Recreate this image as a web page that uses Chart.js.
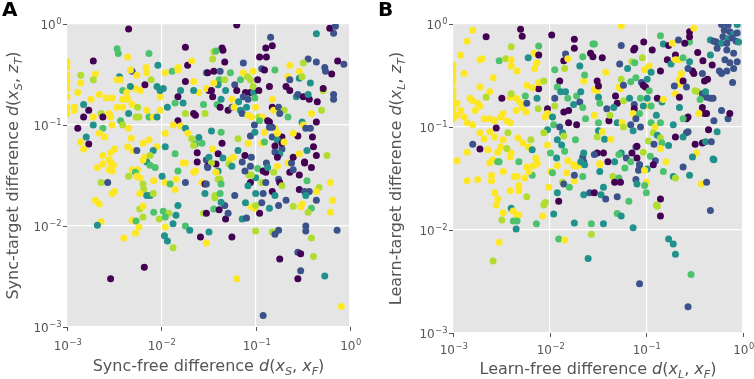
<!DOCTYPE html>
<html>
<head>
<meta charset="utf-8">
<script src="https://cdn.jsdelivr.net/npm/chart.js@4.4.1/dist/chart.umd.min.js"></script>
<style>
  body { margin: 0; background: #ffffff; }
  #wrap { position: relative; width: 754px; height: 379px; }
  canvas { position: absolute; top: 0; }
</style>
</head>
<body>
<div id="wrap">
  <canvas id="chartA" width="377" height="379" style="left:0px"></canvas>
  <canvas id="chartB" width="377" height="379" style="left:377px"></canvas>
</div>
<script>
// Panel A: sync-free difference (x) vs sync-target difference (y), colour level 0..5
const syncFree = [
  0.0045,0.0034,0.0035,0.0074,0.0044,0.0019,0.001,0.001,0.001,0.001,
  0.001,0.001,0.001,0.001,0.002,0.0019,0.0014,0.0014,0.0036,0.0049,
  0.0047,0.0034,0.0037,0.0092,0.0069,0.007,0.0055,0.0067,0.0078,0.009,
  0.0053,0.006,0.0047,0.0039,0.0043,0.0013,0.0012,0.0012,0.0015,0.0017,
  0.0015,0.0013,0.0016,0.0017,0.0014,0.0015,0.0018,0.0022,0.0026,0.003,
  0.0023,0.0019,0.0024,0.0028,0.0029,0.0037,0.0039,0.0024,0.0019,0.0022,
  0.0025,0.003,0.0034,0.0039,0.0044,0.0049,0.0056,0.0039,0.0045,0.0054,
  0.0058,0.007,0.0074,0.0082,0.009,0.0097,0.0097,0.0097,0.0045,0.0048,
  0.0044,0.005,0.0055,0.0032,0.0029,0.0024,0.0024,0.0028,0.0031,0.0064,
  0.0074,0.009,0.0082,0.0067,0.0076,0.007,0.0064,0.011,0.011,0.0116,
  0.0105,0.013,0.011,0.015,0.015,0.018,0.019,0.021,0.018,0.022,
  0.016,0.015,0.014,0.017,0.018,0.022,0.023,0.028,0.015,0.016,
  0.0134,0.018,0.019,0.021,0.023,0.025,0.022,0.027,0.024,0.03,
  0.032,0.018,0.014,0.03,0.036,0.032,0.03,0.029,0.025,0.022,
  0.036,0.063,0.144,0.15,0.128,0.044,0.045,0.038,0.035,0.047,
  0.11,0.13,0.074,0.44,0.67,0.61,0.7,0.74,0.86,0.44,
  0.36,0.32,0.23,0.29,0.54,0.55,0.64,0.094,0.074,0.16,
  0.116,0.124,0.054,0.042,0.031,0.041,0.047,0.069,0.082,0.088,
  0.105,0.04,0.036,0.034,0.048,0.06,0.063,0.078,0.088,0.074,
  0.095,0.094,0.108,0.14,0.056,0.043,0.035,0.039,0.042,0.066,
  0.083,0.098,0.051,0.056,0.059,0.069,0.1,0.08,0.072,0.083,
  0.09,0.108,0.118,0.134,0.15,0.15,0.155,0.175,0.2,0.18,
  0.22,0.21,0.23,0.27,0.28,0.32,0.37,0.36,0.38,0.29,
  0.31,0.22,0.23,0.45,0.5,0.52,0.52,0.67,0.67,0.39,
  0.44,0.31,0.32,0.34,0.38,0.28,0.25,0.19,0.15,0.17,
  0.16,0.17,0.15,0.14,0.11,0.097,0.116,0.124,0.16,0.19,
  0.19,0.2,0.18,0.16,0.17,0.22,0.24,0.25,0.29,0.33,
  0.35,0.41,0.4,0.57,0.44,0.09,0.058,0.065,0.077,0.083,
  0.088,0.098,0.065,0.044,0.043,0.034,0.035,0.04,0.045,0.053,
  0.031,0.038,0.072,0.124,0.14,0.0021,0.0028,0.003,0.0029,0.003,
  0.0023,0.0027,0.003,0.0032,0.002,0.0022,0.0045,0.0049,0.0056,0.0053,
  0.0055,0.0059,0.0064,0.0065,0.0059,0.007,0.0076,0.0082,0.0083,0.0076,
  0.0086,0.0102,0.011,0.0124,0.014,0.0143,0.015,0.017,0.022,0.023,
  0.018,0.027,0.029,0.029,0.034,0.031,0.024,0.015,0.0059,0.0064,
  0.0064,0.0083,0.0095,0.0105,0.012,0.011,0.0143,0.0133,0.0049,0.0054,
  0.0023,0.0021,0.0058,0.0053,0.004,0.011,0.0108,0.0116,0.0133,0.018,
  0.02,0.026,0.03,0.028,0.036,0.0066,0.0029,0.032,0.056,0.1,
  0.15,0.16,0.175,0.34,0.34,0.39,0.73,0.18,0.28,0.3,
  0.41,0.3,0.28,0.54,0.063,0.12,0.81,0.62,0.65,0.62,
  0.47,0.44,0.44,0.39,0.36,0.31,0.3,0.25,0.21,0.175,
  0.14,0.11,0.09,0.097,0.1,0.116,0.078,0.072,0.08,0.048,
  0.051,0.041,0.047,0.043,0.03,0.06,0.037,0.037,0.042,
  0.04,0.042,0.04,0.043,0.03,0.038,0.088,0.105,0.1,0.085,
  0.09,0.077,0.088,0.083,0.12,0.128,0.13,0.134,0.155,0.17,
  0.175,0.18,0.19,0.15,0.16,0.12,0.116,0.1,0.128,0.23,
  0.25,0.29,0.35,0.29,0.33,0.37,0.34,0.39,0.33,0.052,
  0.056
];
const syncTarget = [
  0.89,0.57,0.51,0.51,0.47,0.43,0.42,0.37,0.31,0.27,
  0.23,0.19,0.15,0.13,0.32,0.28,0.31,0.26,0.30,0.34,
  0.35,0.28,0.28,0.39,0.37,0.33,0.31,0.25,0.28,0.24,
  0.23,0.22,0.24,0.22,0.21,0.21,0.15,0.14,0.16,0.14,
  0.12,0.093,0.076,0.065,0.068,0.058,0.18,0.2,0.185,0.185,
  0.13,0.12,0.12,0.13,0.12,0.11,0.1,0.093,0.1,0.083,
  0.076,0.1,0.15,0.15,0.18,0.16,0.15,0.18,0.13,0.12,
  0.12,0.14,0.12,0.12,0.12,0.14,0.19,0.22,0.093,0.074,
  0.061,0.056,0.056,0.058,0.053,0.05,0.041,0.045,0.04,0.066,
  0.071,0.061,0.056,0.048,0.05,0.043,0.045,0.061,0.083,0.15,
  0.23,0.34,0.33,0.35,0.37,0.59,0.39,0.43,0.27,0.27,
  0.22,0.19,0.165,0.165,0.13,0.13,0.125,0.16,0.11,0.098,
  0.1,0.093,0.083,0.073,0.065,0.075,0.063,0.066,0.053,0.045,
  0.048,0.042,0.052,0.33,0.34,0.22,0.23,0.13,0.21,0.22,
  0.53,0.98,0.74,0.61,0.58,0.58,0.55,0.54,0.45,0.42,
  0.47,0.47,0.41,0.8,0.81,0.91,0.95,0.43,0.4,0.42,
  0.45,0.41,0.39,0.34,0.37,0.34,0.32,0.34,0.33,0.35,
  0.36,0.35,0.33,0.34,0.33,0.28,0.28,0.28,0.3,0.28,
  0.28,0.25,0.26,0.22,0.22,0.25,0.22,0.21,0.21,0.19,
  0.21,0.24,0.22,0.24,0.18,0.18,0.19,0.16,0.15,0.17,
  0.18,0.185,0.14,0.15,0.15,0.14,0.15,0.15,0.13,0.125,
  0.12,0.12,0.12,0.11,0.18,0.15,0.14,0.15,0.14,0.13,
  0.12,0.24,0.22,0.19,0.2,0.19,0.18,0.2,0.26,0.29,
  0.3,0.3,0.28,0.17,0.14,0.22,0.23,0.2,0.18,0.13,
  0.107,0.107,0.1,0.093,0.093,0.078,0.083,0.076,0.076,0.071,
  0.093,0.083,0.095,0.107,0.11,0.1,0.066,0.068,0.062,0.058,
  0.066,0.068,0.052,0.054,0.048,0.042,0.042,0.048,0.052,0.042,
  0.056,0.061,0.076,0.05,0.05,0.048,0.048,0.056,0.05,0.066,
  0.078,0.085,0.073,0.066,0.085,0.087,0.058,0.052,0.047,0.045,
  0.039,0.041,0.043,0.085,0.095,0.038,0.036,0.035,0.042,0.041,
  0.027,0.027,0.021,0.022,0.018,0.0165,0.031,0.036,0.036,0.034,
  0.031,0.03,0.026,0.023,0.021,0.02,0.02,0.021,0.028,0.04,
  0.038,0.031,0.027,0.026,0.023,0.029,0.035,0.042,0.034,0.035,
  0.027,0.027,0.026,0.021,0.042,0.038,0.043,0.016,0.0147,0.0123,
  0.0157,0.0137,0.0117,0.014,0.0134,0.0123,0.0128,0.0105,0.0114,0.0112,
  0.011,0.0102,0.0098,0.0085,0.0076,0.0098,0.008,0.0071,0.0061,0.01,
  0.0091,0.0078,0.0068,0.0134,0.0147,0.0039,0.003,0.0087,0.0078,0.0089,
  0.0087,0.0083,0.0091,0.01,0.0089,0.0076,0.0091,0.0047,0.0055,0.0053,
  0.005,0.0036,0.003,0.0032,0.003,0.0013,0.0016,0.027,0.018,0.0137,
  0.024,0.022,0.018,0.015,0.0137,0.0165,0.0155,0.0157,0.018,0.016,
  0.015,0.0134,0.0155,0.015,0.016,0.017,0.017,0.0117,0.012,0.0117,
  0.0134,0.0145,0.016,0.0172,0.0134,0.02,0.019,0.02,0.021,
  0.029,0.029,0.035,0.026,0.026,0.034,0.039,0.037,0.03,0.032,
  0.032,0.035,0.027,0.025,0.035,0.034,0.042,0.038,0.034,0.039,
  0.029,0.027,0.025,0.022,0.02,0.021,0.027,0.021,0.027,0.034,
  0.036,0.032,0.028,0.023,0.022,0.022,0.02,0.038,0.043,0.041,
  0.039
];
const syncLevel = [
  0,3,3,3,5,0,5,5,5,5,
  5,5,5,5,5,4,4,5,2,1,
  5,5,5,2,5,5,5,0,4,2,
  5,5,2,3,5,5,5,5,2,0,
  0,0,2,0,5,5,5,5,5,5,
  4,5,0,5,5,3,4,3,2,5,
  5,5,5,5,5,5,4,5,2,4,
  4,5,3,5,2,5,5,2,5,5,
  5,5,1,5,5,5,5,5,5,5,
  5,5,2,5,4,2,5,2,5,2,
  2,3,5,5,5,0,0,5,0,5,
  2,0,3,2,4,0,0,3,0,5,
  5,2,5,4,3,2,4,3,0,1,
  2,5,3,2,0,0,5,4,5,2,
  4,0,1,0,0,0,0,3,4,0,
  0,0,1,2,1,0,1,0,1,1,
  1,4,5,5,1,1,0,5,5,3,
  1,0,3,1,0,3,4,3,4,4,
  0,2,5,0,2,1,0,0,0,1,
  2,4,0,0,5,2,0,3,0,2,
  1,3,0,1,5,2,5,2,1,5,
  5,4,5,0,5,0,5,1,4,1,
  3,0,0,2,1,0,0,2,2,2,
  4,5,1,0,4,4,0,1,1,5,
  0,2,5,1,1,0,5,0,1,2,
  5,5,1,0,3,1,5,3,0,1,
  0,5,2,1,0,5,1,0,5,0,
  2,0,0,4,0,1,5,2,0,5,
  1,2,4,0,3,2,5,0,2,5,
  0,0,1,5,1,5,5,5,5,5,
  4,1,5,5,5,5,4,5,5,3,
  5,5,4,4,5,2,2,4,5,3,
  3,2,5,3,5,5,3,5,5,5,
  1,5,0,2,4,1,0,2,4,4,
  5,3,4,3,4,3,2,2,5,3,
  5,2,5,5,5,5,2,2,4,3,
  2,0,5,4,3,0,0,2,0,4,
  4,1,1,1,1,4,1,0,1,0,
  4,1,0,2,5,1,5,5,5,5,
  4,5,1,3,4,5,5,4,1,1,
  2,0,5,5,4,1,2,2,1,0,
  1,0,1,2,0,1,4,4,3,
  4,4,2,3,1,5,1,3,2,4,
  4,1,0,2,0,0,1,2,4,5,
  1,0,4,0,2,1,4,2,1,0,
  1,0,3,0,1,1,2,0,0,4,
  2
];

// Panel B: learn-free difference (x) vs learn-target difference (y), colour level 0..5
const learnFree = [
  0.0016,0.0022,0.005,0.0052,0.0105,0.0014,0.004,0.0077,0.018,0.018,
  0.028,0.0012,0.0019,0.002,0.003,0.0035,0.004,0.006,0.0069,0.0077,
  0.0146,0.014,0.0154,0.022,0.0265,0.0074,0.004,0.0046,0.007,0.0113,
  0.0143,0.0205,0.001,0.001,0.001,0.001,0.001,0.001,0.001,0.001,
  0.001,0.001,0.0013,0.0026,0.0019,0.0024,0.0032,0.0022,0.0039,0.0045,
  0.0049,0.004,0.0015,0.0016,0.0018,0.0019,0.0017,0.0011,0.0012,0.0011,
  0.0013,0.0014,0.0016,0.0021,0.0024,0.0027,0.0028,0.0031,0.0033,0.0036,
  0.0039,0.0045,0.0052,0.0057,0.0058,0.0056,0.0077,0.0077,0.0087,0.0074,
  0.0076,0.0058,0.0066,0.0095,0.0095,0.009,0.0107,0.0113,0.0127,0.012,
  0.013,0.0146,0.0113,0.0154,0.014,0.0157,0.0177,0.019,0.0205,0.0225,
  0.023,0.021,0.022,0.0235,0.0157,0.019,0.011,0.0127,0.0136,0.0095,
  0.0087,0.0095,0.0102,0.012,0.0133,0.014,0.0143,0.0118,0.0154,0.0185,
  0.022,0.0225,0.0225,0.0177,0.019,0.0047,0.0053,0.006,0.0064,0.0066,
  0.0072,0.0074,0.0048,0.004,0.0039,0.0037,0.0033,0.0031,0.0024,0.0027,
  0.0029,0.0023,0.0019,0.0021,0.0019,0.0016,0.0014,0.0011,0.0026,0.003,
  0.0036,0.055,0.14,0.055,0.094,0.076,0.074,0.115,0.15,0.17,
  0.185,0.215,0.28,0.25,0.28,0.28,0.31,0.34,0.46,0.6,
  0.7,0.87,0.64,0.73,0.8,0.87,0.62,0.7,0.53,0.6,
  0.68,0.77,0.85,0.9,0.54,0.68,0.8,0.46,0.5,0.029,
  0.035,0.028,0.053,0.071,0.076,0.064,0.091,0.096,0.107,0.112,
  0.14,0.038,0.165,0.18,0.2,0.2,0.22,0.24,0.28,0.3,
  0.27,0.23,0.385,0.48,0.57,0.6,0.68,0.65,0.73,0.8,
  0.87,0.78,0.4,0.43,0.38,0.31,0.22,0.22,0.195,0.24,
  0.26,0.2,0.22,0.32,0.34,0.38,0.42,0.46,0.49,0.41,
  0.36,0.38,0.4,0.42,0.35,0.27,0.26,0.24,0.22,0.5,
  0.6,0.7,0.73,0.031,0.029,0.031,0.032,0.032,0.033,0.039,
  0.048,0.05,0.052,0.054,0.055,0.069,0.046,0.058,0.058,0.067,
  0.078,0.089,0.093,0.098,0.102,0.107,0.102,0.102,0.112,0.13,
  0.145,0.15,0.075,0.075,0.087,0.093,0.073,0.085,0.078,0.127,
  0.112,0.123,0.14,0.19,0.029,0.032,0.041,0.042,0.05,0.056,
  0.069,0.058,0.032,0.035,0.037,0.043,0.031,0.073,0.078,0.08,
  0.087,0.105,0.118,0.13,0.14,0.145,0.17,0.12,0.14,0.2,
  0.26,0.27,0.24,0.32,0.38,0.41,0.33,0.3,0.44,0.54,
  0.47,0.49,0.031,0.036,0.029,0.055,0.052,0.071,0.093,0.08,
  0.062,0.047,0.04,0.033,0.069,0.085,0.11,0.16,0.124,0.118,
  0.0014,0.0018,0.0025,0.0025,0.0033,0.0024,0.0029,0.0043,0.0046,0.0048,
  0.0048,0.0039,0.0055,0.0027,0.0029,0.0028,0.0058,0.0066,0.0058,0.0061,
  0.0068,0.0074,0.0102,0.0107,0.0098,0.012,0.0136,0.014,0.012,0.0124,
  0.015,0.016,0.018,0.0197,0.018,0.018,0.022,0.0225,0.026,0.029,
  0.021,0.023,0.009,0.0087,0.011,0.0085,0.0073,0.004,0.0042,0.0046,
  0.0048,0.0042,0.0046,0.0045,0.0033,0.0032,0.003,0.0026,0.0124,0.0143,
  0.018,0.027,0.027,0.025,0.033,0.033,0.045,0.052,0.047,0.054,
  0.06,0.085,0.083,0.102,0.096,0.078,0.08,0.1,0.096,0.1,
  0.15,0.19,0.2,0.28,0.24,0.5,0.37,0.42,0.46,0.14,
  0.127,0.13,0.14,0.036,0.034,0.038,0.05,0.066,0.05,0.055,
  0.036,0.073,0.17,0.19,0.2,0.29,0.085,0.27
];
const learnTarget = [
  0.87,0.75,0.89,0.76,0.78,0.68,0.6,0.61,0.71,0.58,
  0.64,0.5,0.45,0.46,0.44,0.46,0.45,0.47,0.52,0.5,
  0.51,0.44,0.46,0.48,0.52,0.42,0.39,0.35,0.37,0.36,
  0.37,0.39,0.4,0.35,0.31,0.27,0.23,0.2,0.18,0.155,
  0.135,0.12,0.33,0.3,0.245,0.22,0.19,0.195,0.195,0.19,
  0.175,0.21,0.19,0.18,0.17,0.16,0.145,0.17,0.145,0.13,
  0.125,0.11,0.105,0.12,0.12,0.115,0.098,0.125,0.135,0.115,
  0.11,0.145,0.155,0.14,0.17,0.2,0.235,0.27,0.28,0.19,
  0.15,0.255,0.24,0.15,0.135,0.125,0.125,0.16,0.28,0.245,
  0.22,0.22,0.19,0.19,0.14,0.145,0.165,0.2,0.175,0.28,
  0.32,0.22,0.155,0.12,0.11,0.105,0.105,0.1,0.088,0.094,
  0.088,0.067,0.056,0.075,0.067,0.082,0.058,0.05,0.047,0.075,
  0.051,0.046,0.056,0.043,0.042,0.078,0.07,0.064,0.075,0.06,
  0.05,0.044,0.046,0.056,0.051,0.088,0.075,0.064,0.09,0.08,
  0.057,0.06,0.088,0.077,0.061,0.068,0.057,0.047,0.048,0.046,
  0.062,0.96,0.77,0.62,0.67,0.58,0.56,0.56,0.64,0.62,
  0.65,0.7,0.67,0.65,0.84,0.75,0.91,0.53,0.7,0.99,
  0.98,0.99,0.87,0.84,0.8,0.82,0.75,0.72,0.67,0.65,
  0.65,0.73,0.68,0.67,0.58,0.56,0.52,0.5,0.68,0.64,
  0.47,0.48,0.41,0.43,0.42,0.37,0.47,0.36,0.39,0.34,
  0.35,0.34,0.45,0.41,0.5,0.45,0.45,0.47,0.43,0.35,
  0.37,0.33,0.44,0.4,0.35,0.33,0.35,0.45,0.42,0.37,
  0.43,0.27,0.28,0.29,0.33,0.33,0.29,0.26,0.25,0.28,
  0.245,0.21,0.195,0.225,0.22,0.21,0.195,0.19,0.19,0.22,
  0.185,0.155,0.135,0.135,0.135,0.125,0.12,0.12,0.155,0.115,
  0.145,0.12,0.135,0.28,0.23,0.225,0.25,0.195,0.17,0.15,
  0.2,0.17,0.245,0.235,0.29,0.275,0.155,0.255,0.18,0.19,
  0.3,0.27,0.255,0.245,0.29,0.225,0.19,0.16,0.16,0.19,
  0.175,0.185,0.165,0.15,0.19,0.16,0.135,0.135,0.12,0.13,
  0.11,0.1,0.11,0.105,0.13,0.11,0.115,0.13,0.11,0.11,
  0.105,0.1,0.092,0.09,0.076,0.076,0.08,0.092,0.064,0.065,
  0.1,0.073,0.088,0.083,0.078,0.07,0.066,0.068,0.062,0.08,
  0.088,0.09,0.08,0.068,0.07,0.072,0.056,0.051,0.094,0.09,
  0.072,0.049,0.056,0.056,0.054,0.056,0.054,0.056,0.057,0.05,
  0.05,0.046,0.046,0.044,0.046,0.043,0.052,0.046,0.047,0.043,
  0.03,0.031,0.03,0.034,0.037,0.045,0.046,0.033,0.033,0.027,
  0.024,0.024,0.032,0.023,0.02,0.0175,0.021,0.034,0.041,0.037,
  0.042,0.045,0.037,0.036,0.026,0.042,0.029,0.028,0.023,0.019,
  0.036,0.026,0.042,0.042,0.03,0.034,0.033,0.022,0.023,0.023,
  0.046,0.043,0.0185,0.0175,0.0143,0.0137,0.0115,0.0163,0.0153,0.014,
  0.014,0.0122,0.0122,0.0102,0.0147,0.0125,0.0076,0.005,0.0082,0.008,
  0.0117,0.0115,0.0091,0.0053,0.043,0.037,0.033,0.032,0.029,0.029,
  0.04,0.043,0.038,0.039,0.038,0.031,0.028,0.029,0.027,0.023,
  0.037,0.033,0.032,0.034,0.041,0.048,0.028,0.029,0.0155,0.02,
  0.0175,0.017,0.0137,0.026,0.022,0.02,0.021,0.019,0.0145,0.0137,
  0.0115,0.0105,0.0082,0.0073,0.0058,0.0037,0.003,0.0018
];
const learnLevel = [
  5,0,0,0,0,5,4,3,0,0,
  3,5,5,5,3,4,5,2,5,0,
  1,0,5,3,0,5,5,5,5,3,
  4,2,5,5,5,5,5,5,5,5,
  5,5,5,5,5,5,0,4,5,5,
  5,4,5,5,5,5,5,5,5,5,
  5,5,5,5,5,5,0,5,5,5,
  5,5,5,5,1,3,0,5,4,2,
  4,5,5,0,5,5,2,4,0,3,
  2,2,1,3,0,0,2,3,1,5,
  3,2,3,3,0,0,3,1,2,2,
  4,5,3,2,2,4,3,2,5,3,
  1,1,2,5,5,5,5,5,4,2,
  5,5,3,5,5,4,5,5,5,5,
  5,5,5,5,0,1,5,5,5,3,
  4,5,3,1,0,0,0,0,2,0,
  5,1,3,0,0,0,5,0,2,1,
  1,2,1,1,2,1,1,2,1,2,
  1,1,1,2,1,1,1,2,1,3,
  0,0,1,4,3,2,4,5,5,2,
  0,5,0,2,0,5,5,3,2,0,
  1,5,0,0,1,1,1,1,1,1,
  1,1,0,0,1,0,5,5,1,0,
  1,5,0,4,4,1,1,1,1,2,
  3,0,0,0,5,0,0,3,2,1,
  1,1,0,0,5,5,0,2,3,1,
  0,0,5,5,4,3,2,1,4,2,
  3,1,0,0,2,3,2,5,3,0,
  2,5,1,0,3,2,5,3,1,2,
  3,5,3,2,5,3,0,4,2,5,
  1,4,2,5,2,5,4,2,1,0,
  1,4,4,2,4,3,2,1,5,0,
  1,1,2,0,0,2,5,2,0,2,
  1,2,0,0,1,2,3,0,4,0,
  1,2,0,5,3,1,3,5,1,0,
  5,5,5,5,5,5,3,5,5,5,
  5,5,5,5,5,5,4,3,5,5,
  5,5,5,3,5,5,4,1,2,0,
  5,3,5,5,5,1,3,2,1,0,
  2,2,4,4,2,5,3,2,5,5,
  5,3,3,2,5,4,5,4,3,5,
  2,3,4,2,5,2,4,3,0,0,
  3,1,1,2,5,1,2,5,3,3,
  3,2,4,2,1,2,5,1,1,0,
  4,4,0,2,2,1,1,3,3,2,
  2,2,2,2,2,3,1,1
];

const tickValues = [0.001, 0.01, 0.1, 1];
const tickExponents = ["\u22123", "\u22122", "\u22121", "0"];
// viridis steps for the colour level
const levelColors = ["#440154", "#3b528b", "#21918c", "#4cc26c", "#b0dd2f", "#fde725"];

const textColor = "#555555";
const fontName = '"DejaVu Sans", sans-serif';

function partFont(p, size) {
  let s = (p[1] === "is") ? size * 0.7 : size;
  let italic = (p[1] === "i" || p[1] === "is") ? "italic " : "";
  return italic + s.toFixed(1) + "px " + fontName;
}

// draws text made of pieces: [text, ""] upright, [text, "i"] italic, [text, "is"] italic subscript
function drawRich(ctx, parts, x, y, size, align) {
  let total = 0;
  parts.forEach(p => { ctx.font = partFont(p, size); total += ctx.measureText(p[0]).width; });
  let cx = align === "center" ? x - total / 2 : (align === "right" ? x - total : x);
  ctx.textAlign = "left";
  ctx.textBaseline = "alphabetic";
  parts.forEach(p => {
    ctx.font = partFont(p, size);
    let dy = p[1] === "is" ? size * 0.22 : 0;
    ctx.fillText(p[0], cx, y + dy);
    cx += ctx.measureText(p[0]).width;
  });
}

function drawPower(ctx, exp, x, y, size, align) {
  ctx.font = size + "px " + fontName;
  let w1 = ctx.measureText("10").width;
  ctx.font = (size * 0.7).toFixed(1) + "px " + fontName;
  let w2 = ctx.measureText(exp).width;
  let start = align === "center" ? x - (w1 + w2) / 2 : x - (w1 + w2);
  ctx.textAlign = "left";
  ctx.textBaseline = "alphabetic";
  ctx.font = size + "px " + fontName;
  ctx.fillText("10", start, y);
  ctx.font = (size * 0.7).toFixed(1) + "px " + fontName;
  ctx.fillText(exp, start + w1 + 0.5, y - size * 0.42);
}

const panelDecor = {
  id: "panelDecor",
  beforeDraw(chart, args, opts) {
    const a = chart.chartArea;
    const ctx = chart.ctx;
    ctx.save();
    ctx.fillStyle = "#e5e5e5";
    ctx.fillRect(a.left, a.top, a.right - a.left, a.bottom - a.top);
    ctx.restore();
  },
  afterDraw(chart, args, opts) {
    const a = chart.chartArea;
    const ctx = chart.ctx;
    const xs = chart.scales.x, ys = chart.scales.y;
    ctx.save();
    ctx.strokeStyle = textColor;
    ctx.lineWidth = 1;
    ctx.fillStyle = textColor;
    tickValues.forEach((v, i) => {
      let px = Math.round(xs.getPixelForValue(v)) + 0.5;
      let py = Math.round(ys.getPixelForValue(v)) + 0.5;
      ctx.beginPath();
      ctx.moveTo(px, a.bottom); ctx.lineTo(px, a.bottom + 4);
      ctx.moveTo(a.left - 4, py); ctx.lineTo(a.left, py);
      ctx.stroke();
      drawPower(ctx, tickExponents[i], px, opts.xTickY, 12, "center");
      drawPower(ctx, tickExponents[i], a.left - 6, py + 4.5, 12, "right");
    });
    drawRich(ctx, opts.xTitle, (a.left + a.right) / 2, opts.xTitleY, 16, "center");
    ctx.save();
    ctx.translate(opts.yTitleX, (a.top + a.bottom) / 2);
    ctx.rotate(-Math.PI / 2);
    drawRich(ctx, opts.yTitle, 0, 0, 16, "center");
    ctx.restore();
    ctx.fillStyle = "#000000";
    ctx.font = "bold 20px " + fontName;
    ctx.textAlign = "left";
    ctx.fillText(opts.letter, opts.letterX, 16);
    ctx.restore();
  }
};

function makePanel(canvasId, xVals, yVals, levels, decor, pad, xAxisHeight, yAxisWidth) {
  const points = xVals.map((x, i) => ({ x: x, y: yVals[i] }));
  const colors = levels.map(l => levelColors[l]);
  return new Chart(document.getElementById(canvasId).getContext("2d"), {
    type: "scatter",
    data: {
      datasets: [{
        data: points,
        pointBackgroundColor: colors,
        pointBorderColor: colors,
        pointBorderWidth: 0,
        pointRadius: 3.5,
        pointHoverRadius: 3.5,
        clip: 0
      }]
    },
    options: {
      responsive: false,
      animation: false,
      devicePixelRatio: 1,
      events: [],
      layout: { padding: pad },
      plugins: {
        legend: { display: false },
        tooltip: { enabled: false },
        panelDecor: decor
      },
      scales: {
        x: {
          type: "logarithmic", min: 0.001, max: 1,
          afterBuildTicks: s => { s.ticks = tickValues.map(v => ({ value: v })); },
          afterFit: s => { s.height = xAxisHeight; },
          ticks: { display: false },
          grid: { color: "#ffffff", lineWidth: 1.2, drawTicks: false },
          border: { display: false }
        },
        y: {
          type: "logarithmic", min: 0.001, max: 1,
          afterBuildTicks: s => { s.ticks = tickValues.map(v => ({ value: v })); },
          afterFit: s => { s.width = yAxisWidth; },
          ticks: { display: false },
          grid: { color: "#ffffff", lineWidth: 1.2, drawTicks: false },
          border: { display: false }
        }
      }
    },
    plugins: [panelDecor]
  });
}

makePanel("chartA", syncFree, syncTarget, syncLevel, {
  letter: "A", letterX: 2,
  xTickY: 350, xTitleY: 371, yTitleX: 18,
  xTitle: [["Sync-free difference ", ""], ["d", "i"], ["(", ""], ["x", "i"], ["S", "is"], [", ", ""], ["x", "i"], ["F", "is"], [")", ""]],
  yTitle: [["Sync-target difference ", ""], ["d", "i"], ["(", ""], ["x", "i"], ["S", "is"], [", ", ""], ["z", "i"], ["T", "is"], [")", ""]]
}, { left: 0, top: 24, right: 27, bottom: 0 }, 52, 67);

makePanel("chartB", learnFree, learnTarget, learnLevel, {
  letter: "B", letterX: 1,
  xTickY: 354, xTitleY: 374, yTitleX: 24,
  xTitle: [["Learn-free difference ", ""], ["d", "i"], ["(", ""], ["x", "i"], ["L", "is"], [", ", ""], ["x", "i"], ["F", "is"], [")", ""]],
  yTitle: [["Learn-target difference ", ""], ["d", "i"], ["(", ""], ["x", "i"], ["L", "is"], [", ", ""], ["z", "i"], ["T", "is"], [")", ""]]
}, { left: 0, top: 24, right: 11, bottom: 0 }, 46, 76);
</script>
</body>
</html>
